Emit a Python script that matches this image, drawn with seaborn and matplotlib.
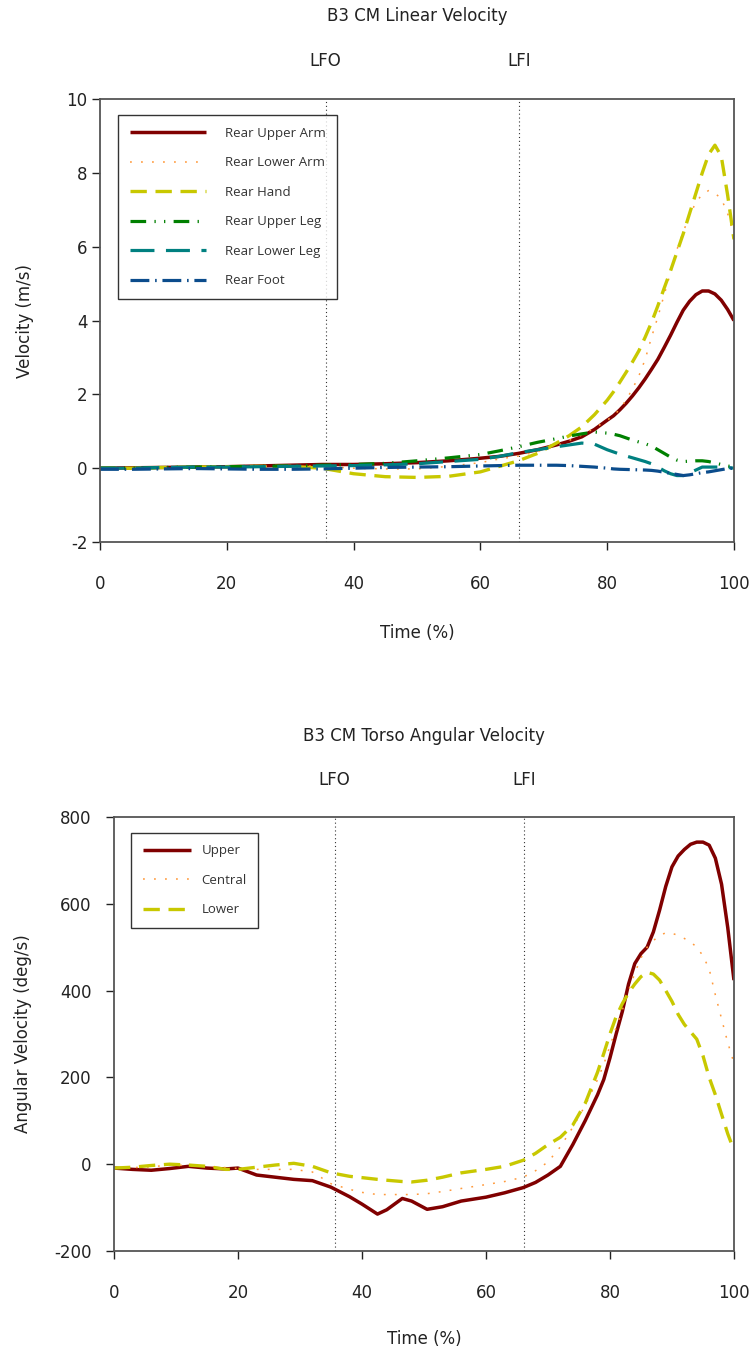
import matplotlib
matplotlib.use("Agg")
import matplotlib.pyplot as plt
from matplotlib.font_manager import FontProperties
import seaborn as sns
import pandas as pd

# ---------------- data: top panel (linear velocity, m/s) ----------------
time_lin = [0, 5, 10, 15, 20, 25, 30, 35, 40, 45, 50, 55, 60, 63, 66, 69, 72, 74,
            76, 78, 80, 81, 82, 83, 84, 85, 86, 87, 88, 89, 90, 91, 92, 93, 94, 95,
            96, 97, 98, 99, 100]
rear_upper_arm = [0.0, 0.01, 0.02, 0.03, 0.04, 0.06, 0.08, 0.1, 0.1, 0.12, 0.15, 0.2,
                  0.27, 0.32, 0.4, 0.5, 0.63, 0.73, 0.85, 1.05, 1.3, 1.42, 1.58, 1.76,
                  1.96, 2.18, 2.42, 2.68, 2.95, 3.27, 3.6, 3.95, 4.28, 4.52, 4.7, 4.8,
                  4.8, 4.72, 4.55, 4.3, 4.0]
rear_lower_arm = [0.0, 0.0, 0.02, 0.03, 0.04, 0.05, 0.06, 0.05, 0.0, -0.02, -0.02, 0.05,
                  0.15, 0.25, 0.33, 0.45, 0.6, 0.75, 0.9, 1.08, 1.3, 1.42, 1.6, 1.85,
                  2.15, 2.5, 2.95, 3.55, 4.1, 4.7, 5.3, 5.92, 6.4, 6.85, 7.2, 7.42,
                  7.52, 7.45, 7.3, 6.9, 6.3]
rear_hand = [0.0, 0.0, 0.02, 0.03, 0.04, 0.05, 0.05, 0.0, -0.15, -0.23, -0.25, -0.22,
             -0.1, 0.05, 0.2, 0.4, 0.68, 0.88, 1.12, 1.45, 1.84, 2.07, 2.33, 2.6,
             2.88, 3.18, 3.55, 3.95, 4.4, 4.88, 5.35, 5.85, 6.35, 6.9, 7.45, 8.0,
             8.5, 8.75, 8.45, 7.4, 6.2]
rear_upper_leg = [0.0, 0.0, 0.02, 0.03, 0.04, 0.05, 0.06, 0.08, 0.1, 0.13, 0.2, 0.28,
                  0.37, 0.47, 0.58, 0.7, 0.8, 0.87, 0.93, 0.98, 0.95, 0.92, 0.88, 0.82,
                  0.76, 0.71, 0.66, 0.6, 0.5, 0.4, 0.3, 0.22, 0.18, 0.19, 0.2, 0.2,
                  0.18, 0.14, 0.1, 0.06, 0.03]
rear_lower_leg = [0.0, 0.0, 0.02, 0.03, 0.03, 0.04, 0.05, 0.06, 0.07, 0.09, 0.12, 0.18,
                  0.24, 0.32, 0.42, 0.5, 0.58, 0.63, 0.68, 0.65, 0.5, 0.44, 0.38, 0.33,
                  0.28, 0.23, 0.18, 0.12, 0.03, -0.07, -0.15, -0.2, -0.2, -0.13, -0.05,
                  0.03, 0.03, 0.03, 0.03, 0.02, 0.0]
rear_foot = [-0.03, -0.03, -0.02, -0.01, -0.02, -0.03, -0.03, -0.02, 0.0, 0.02, 0.03, 0.04,
             0.06, 0.07, 0.08, 0.08, 0.08, 0.07, 0.05, 0.03, 0.0, -0.02, -0.03, -0.035,
             -0.04, -0.045, -0.05, -0.06, -0.08, -0.11, -0.14, -0.17, -0.2, -0.18,
             -0.15, -0.12, -0.1, -0.07, -0.04, -0.01, 0.0]

# ---------------- data: bottom panel (torso angular velocity, deg/s) ----------------
time_ang = [0, 3, 6, 9, 12, 15, 18, 20, 23, 26, 29, 32, 35, 38, 40, 42.5, 44, 46.5, 48,
            50.5, 53, 56, 60, 63, 66, 68, 70, 72, 74, 76, 78, 79, 80, 81, 82, 83, 84,
            85, 86, 87, 88, 89, 90, 91, 92, 93, 94, 95, 96, 97, 98, 99, 100]
torso_upper = [-9, -12, -14, -10, -5, -9, -11, -9, -25, -30, -35, -38, -53, -75, -92, -115,
               -105, -79, -85, -104, -98, -85, -76, -66, -54, -42, -25, -5, 45, 100, 160,
               195, 245, 300, 352, 415, 462, 485, 500, 535, 585, 640, 685, 710, 725, 737,
               742, 742, 735, 705, 645, 545, 424]
torso_central = [-9, -8, -6, -2, -3, -5, -8, -10, -12, -12, -12, -18, -45, -58, -65, -70,
                 -70, -70, -70, -68, -63, -56, -47, -40, -30, -15, 5, 40, 85, 135, 195,
                 230, 272, 315, 355, 400, 440, 475, 500, 515, 527, 533, 532, 527, 520,
                 512, 500, 480, 450, 390, 335, 280, 233]
torso_lower = [-9, -7, -3, 0, -2, -5, -12, -12, -7, -2, 2, -5, -20, -28, -31, -35, -37,
               -40, -41, -37, -30, -20, -12, -5, 9, 25, 45, 62, 90, 140, 212, 255, 300,
               340, 370, 395, 415, 432, 442, 438, 424, 400, 375, 345, 322, 305, 288, 250,
               200, 160, 115, 70, 32]

events = ["LFO", "LFI"]
event_times = [35.6, 66.1]

lin_labels = ["Rear Upper Arm", "Rear Lower Arm", "Rear Hand",
              "Rear Upper Leg", "Rear Lower Leg", "Rear Foot"]
ang_labels = ["Upper", "Central", "Lower"]

# ---------------- styling ----------------
sns.set_style("ticks")
plt.rcParams["font.family"] = ["DejaVu Sans"]
plt.rcParams["axes.unicode_minus"] = False
BASE = 12
LEGPROP = FontProperties(family=["Open Sans", "DejaVu Sans"], size=9.5, stretch="normal")

lin_styles = [
    dict(color="#800000", lw=2.5, ls="-"),
    dict(color="#FF9A3C", lw=1.1, ls=(0, (1.2, 6))),
    dict(color="#C8C800", lw=2.4, ls=(0, (4.9, 2.6))),
    dict(color="#008000", lw=2.3, ls=(0, (4.9, 2.6, 0.4, 2.6, 0.4, 2.6))),
    dict(color="#008080", lw=2.3, ls=(0, (7.5, 3.6))),
    dict(color="#0B4C8C", lw=2.3, ls=(0, (5.9, 1.8, 0.5, 1.8))),
]
ang_styles = [lin_styles[0], lin_styles[1], lin_styles[2]]

fig = plt.figure(figsize=(7.52, 13.53), dpi=100)
ax1 = fig.add_axes([0.133, 0.5994, 0.843, 0.3274])
ax2 = fig.add_axes([0.1516, 0.0754, 0.8244, 0.3208])

lin_series = [rear_upper_arm, rear_lower_arm, rear_hand,
              rear_upper_leg, rear_lower_leg, rear_foot]
ang_series = [torso_upper, torso_central, torso_lower]


def draw(ax, t, series, labels, styles):
    handles = []
    for y, lab, st in zip(series, labels, styles):
        df = pd.DataFrame({"t": t, "v": y})
        sns.lineplot(data=df, x="t", y="v", ax=ax, color=st["color"],
                     linewidth=st["lw"], linestyle=st["ls"], label=lab,
                     legend=False, solid_capstyle="butt", dash_capstyle="butt",
                     solid_joinstyle="round", dash_joinstyle="round")
        handles.append(ax.lines[-1])
    return handles


h1 = draw(ax1, time_lin, lin_series, lin_labels, lin_styles)
h2 = draw(ax2, time_ang, ang_series, ang_labels, ang_styles)

TXT = "#222222"
for ax, title, ylab, ylim, yticks, ytick_pad, ylab_x, xlab_y, leg_handles, hlen, htp in [
    (ax1, "B3 CM Linear Velocity", "Velocity (m/s)", (-2, 10), range(-2, 11, 2), 3,
     -0.104, -0.185, h1, 5.8, 1.4),
    (ax2, "B3 CM Torso Angular Velocity", "Angular Velocity (deg/s)", (-200, 800),
     range(-200, 801, 200), 10, -0.132, -0.182, h2, 3.6, 0.8),
]:
    for ev, et in zip(events, event_times):
        ax.axvline(et, color="#333333", lw=0.8, ls=(0, (1, 2.5)), zorder=0.5)
        ax.text(et, 1.086, ev, transform=ax.get_xaxis_transform(), ha="center",
                va="center", fontsize=BASE, color=TXT)
    ax.text(0.5, 1.187, title, transform=ax.transAxes, ha="center", va="center",
            fontsize=BASE, color=TXT)
    ax.set_xlim(0, 100)
    ax.set_ylim(*ylim)
    ax.set_xticks(range(0, 101, 20))
    ax.set_yticks(list(yticks))
    ax.tick_params(axis="x", direction="out", length=6, width=1, pad=18,
                   labelsize=BASE, colors=TXT)
    ax.tick_params(axis="y", direction="out", length=6, width=1, pad=ytick_pad,
                   labelsize=BASE, colors=TXT)
    ax.set_xlabel("Time (%)", fontsize=BASE, color=TXT)
    ax.set_ylabel(ylab, fontsize=BASE, color=TXT)
    ax.xaxis.set_label_coords(0.5, xlab_y)
    ax.yaxis.set_label_coords(ylab_x, 0.5)
    for sp in ax.spines.values():
        sp.set_visible(True)
        sp.set_color("#555555")
        sp.set_linewidth(1.3)
    leg = ax.legend(handles=leg_handles, loc="upper left",
                    bbox_to_anchor=(0.028, 0.964), borderaxespad=0,
                    frameon=True, fancybox=False, edgecolor="black",
                    prop=LEGPROP,
                    handlelength=hlen, handletextpad=htp, labelspacing=1.25,
                    borderpad=0.9)
    leg.get_frame().set_linewidth(1.0)
    for txt in leg.get_texts():
        txt.set_color("#333333")

fig.savefig("out.png", dpi=100, facecolor="white")
